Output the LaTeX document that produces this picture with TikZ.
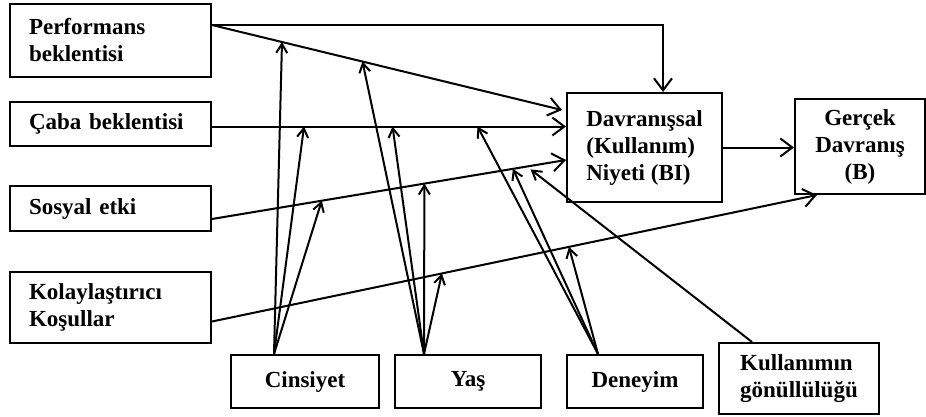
\documentclass[tikz,border=0pt]{standalone}
\usepackage{fontspec}
\setmainfont{Liberation Serif}
\usetikzlibrary{positioning,calc,arrows.meta}
\tikzset{BOX/.style={rectangle,draw,line width=2pt,inner sep=0pt,font=\fontsize{23}{27}\selectfont\bfseries,align=center}}
\tikzset{LEFTBOX/.style={BOX,minimum width=201pt,text width=163pt,align=left}}
\tikzset{ARROW/.style={line width=2pt, -{Straight Barb[length=12pt,width=18pt]}}}
\tikzset{MOD/.style={line width=2pt, -{Straight Barb[length=9pt,width=11pt]}}}

\begin{document}
\begin{tikzpicture}[x=1pt,y=-1pt]
\useasboundingbox (0,0) rectangle (926,416);

\node[LEFTBOX, minimum height=73pt] (n_perf) at (110.5,40.5) {Performans\\beklentisi};
\node[LEFTBOX, minimum height=44pt] (n_caba) at (110.5,123.5) {Çaba beklentisi};
\node[LEFTBOX, minimum height=45pt] (n_sosyal) at (110.5,208.5) {Sosyal etki};
\node[LEFTBOX, minimum height=71pt] (n_kolay) at (110.5,307.5) {Kolaylaştırıcı\\Koşullar};

\node[BOX, align=left, minimum width=155pt, minimum height=109pt] (n_bi) at (644.5,147.5) {Davranışsal\\(Kullanım)\\Niyeti (BI)};
\node[BOX, minimum width=130pt, minimum height=95pt] (n_b) at (860,146.5) {Gerçek\\Davranış\\(B)};

\node[BOX, minimum width=148pt, minimum height=53pt] (n_cins) at (305,381.5) {Cinsiyet};
\node[BOX, minimum width=146pt, minimum height=53pt] (n_yas) at (468,381.5) {Yaş};
\node[BOX, minimum width=136pt, minimum height=53pt] (n_den) at (635,381.5) {Deneyim};
\node[BOX, align=left, minimum width=160pt, minimum height=71pt] (n_gon) at (799,378.5) {Kullanımın\\gönüllülüğü};

% main paths
\coordinate (c_perf_out) at ($(n_perf.north east)+(0,22)$);
\coordinate (c_bi_perf) at ($(n_bi.north west)+(-4,18)$);
\coordinate (c_bi_top) at ($(n_bi.north)+(18.5,0)$);
\draw[ARROW] (c_perf_out) -- (c_bi_perf);
\draw[ARROW] (c_perf_out) -| (c_bi_top);

\coordinate (c_caba_out) at ($(n_caba.east)+(0,3)$);
\coordinate (c_bi_caba) at ($(c_caba_out-|n_bi.west)$);
\draw[ARROW] (c_caba_out) -- (c_bi_caba);

\coordinate (c_sos_out) at ($(n_sosyal.east)+(0,10.5)$);
\coordinate (c_bi_sos) at ($(n_bi.west)+(0,12.5)$);
\draw[ARROW] (c_sos_out) -- (c_bi_sos);

\coordinate (c_kol_out) at ($(n_kolay.east)+(0,14)$);
\coordinate (c_b_kol) at ($(n_b.south west)+(23,0)$);
\draw[ARROW] (c_kol_out) -- (c_b_kol);

\draw[ARROW] (n_bi.east) -- (n_bi.east-|n_b.west);

% moderators
\coordinate (c_cins) at ($(n_cins.north west)+(44,0)$);
\coordinate (c_yas) at ($(n_yas.north west)+(30,0)$);
\coordinate (c_den) at ($(n_den.north west)+(32,0)$);
\coordinate (c_gon) at ($(n_gon.north west)+(34,0)$);

\draw[MOD] (c_cins) -- ($(c_perf_out)!0.20!(c_bi_perf)$);
\draw[MOD] (c_cins) -- ($(c_caba_out)!0.26!(c_bi_caba)$);
\draw[MOD] (c_cins) -- ($(c_sos_out)!0.31!(c_bi_sos)$);

\draw[MOD] (c_yas) -- ($(c_perf_out)!0.43!(c_bi_perf)$);
\draw[MOD] (c_yas) -- ($(c_caba_out)!0.51!(c_bi_caba)$);
\draw[MOD] (c_yas) -- ($(c_sos_out)!0.60!(c_bi_sos)$);
\draw[MOD] (c_yas) -- ($(c_kol_out)!0.38!(c_b_kol)$);

\draw[MOD] (c_den) -- ($(c_caba_out)!0.75!(c_bi_caba)$);
\draw[MOD] (c_den) -- ($(c_sos_out)!0.85!(c_bi_sos)$);
\draw[MOD] (c_den) -- ($(c_kol_out)!0.59!(c_b_kol)$);

\draw[MOD] (c_gon) -- ($(c_sos_out)!0.90!(c_bi_sos)+(0,3.5)$);

\end{tikzpicture}
\end{document}
